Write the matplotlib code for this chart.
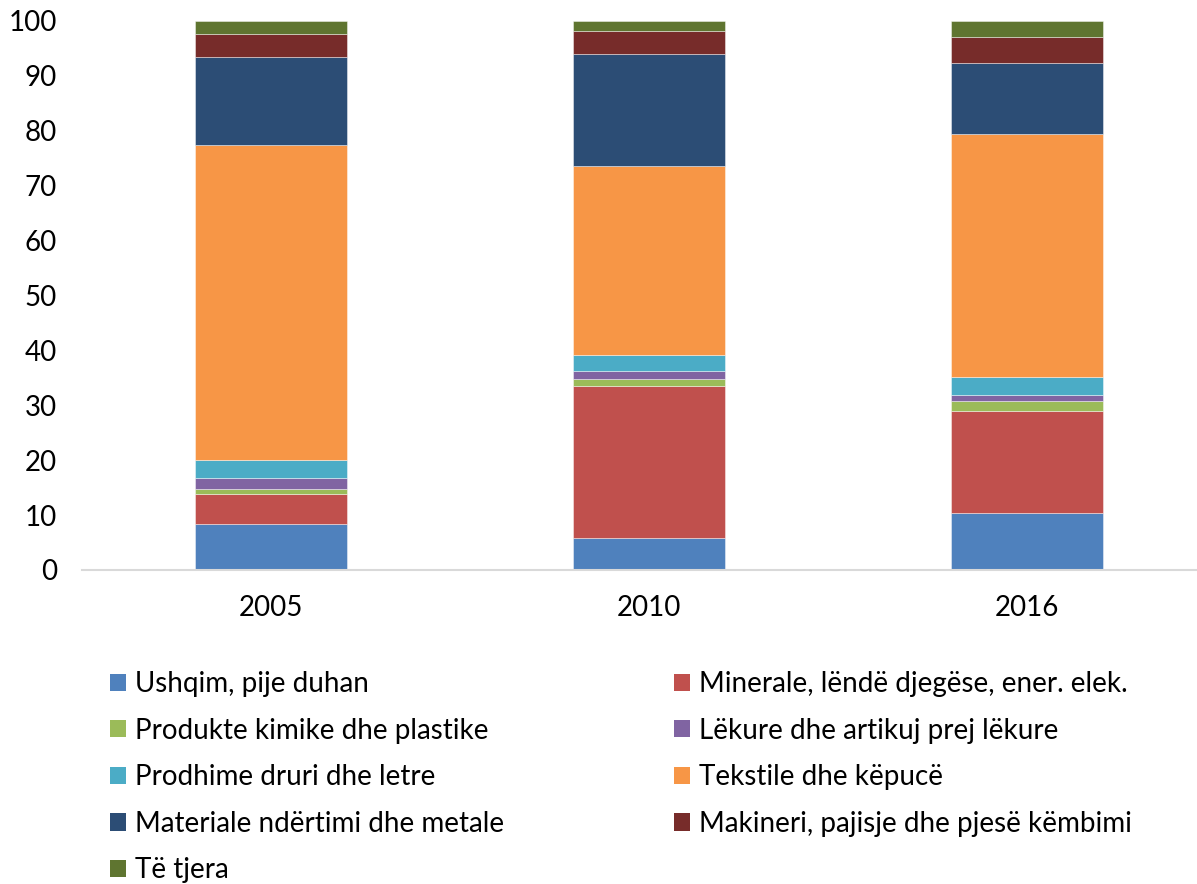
import matplotlib
matplotlib.use("Agg")
import matplotlib.pyplot as plt
from matplotlib.patches import Patch
import numpy as np

years = ["2005", "2010", "2016"]
categories = [
    "Ushqim, pije duhan",
    "Minerale, lëndë djegëse, ener. elek.",
    "Produkte kimike dhe plastike",
    "Lëkure dhe artikuj prej lëkure",
    "Prodhime druri dhe letre",
    "Tekstile dhe këpucë",
    "Materiale ndërtimi dhe metale",
    "Makineri, pajisje dhe pjesë këmbimi",
    "Të tjera",
]
ushqim = [8.3, 5.8, 10.4]
minerale = [5.5, 27.8, 18.5]
kimike = [1.0, 1.1, 1.9]
lekure = [2.0, 1.5, 1.1]
druri = [3.2, 3.0, 3.2]
tekstile = [57.5, 34.4, 44.3]
materiale = [15.9, 20.4, 12.9]
makineri = [4.2, 4.1, 4.7]
tjera = [2.4, 1.9, 3.0]
series = [ushqim, minerale, kimike, lekure, druri, tekstile, materiale, makineri, tjera]
colors = ["#4F81BD", "#C0504D", "#9BBB59", "#8064A2", "#4BACC6",
          "#F79646", "#2C4D75", "#772C2A", "#5F7530"]

plt.rcParams['font.family'] = ['Lato', 'DejaVu Sans']

fig = plt.figure(figsize=(11.97, 8.84), dpi=100)
ax = fig.add_axes([82/1197, 314/884, 1134/1197, 549/884])

x = np.arange(len(years))
bottom = np.zeros(len(years))
handles = []
for vals, col, lab in zip(series, colors, categories):
    ax.bar(x, vals, width=0.402, bottom=bottom, color=col,
           edgecolor=(1, 1, 1, 0.5), linewidth=0.6, label=lab)
    bottom += np.array(vals)
    handles.append(Patch(facecolor=col, edgecolor='none', label=lab))

ax.set_xlim(-0.5, 2.5)
ax.set_ylim(0, 100)
ax.set_yticks(np.arange(0, 101, 10))
ax.set_xticks(x)
ax.set_xticklabels(years)
ax.tick_params(axis='y', length=0, pad=18, labelsize=20)
ax.tick_params(axis='x', length=0, pad=18, labelsize=20)
for s in ['top', 'right', 'left']:
    ax.spines[s].set_visible(False)
ax.spines['bottom'].set_color('#D9D9D9')
ax.spines['bottom'].set_linewidth(1.5)
ax.set_facecolor('none')

common = dict(frameon=False, fontsize=20, handlelength=0.58, handleheight=0.58,
              handletextpad=0.33, labelspacing=0.74, borderpad=0, borderaxespad=0)
left_items = [0, 2, 4, 6, 8]
right_items = [1, 3, 5, 7]
leg1 = fig.legend([handles[i] for i in left_items], [categories[i] for i in left_items],
                  loc='upper left', bbox_to_anchor=(110/1197, 1 - 671/884), **common)
leg2 = fig.legend([handles[i] for i in right_items], [categories[i] for i in right_items],
                  loc='upper left', bbox_to_anchor=(674/1197, 1 - 671/884), **common)

fig.savefig("out.png", dpi=100)
